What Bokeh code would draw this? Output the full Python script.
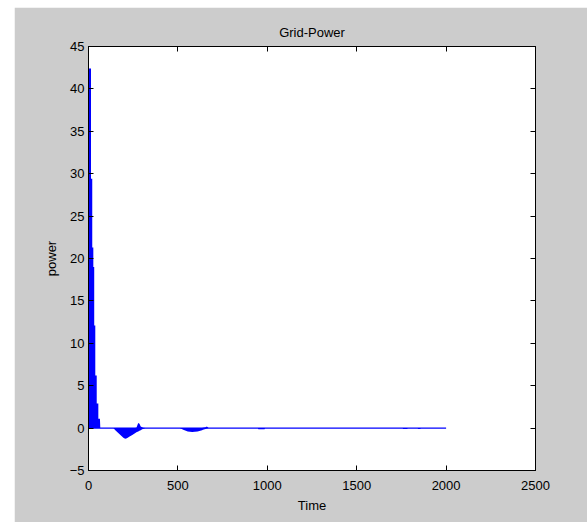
from bokeh.plotting import figure
from bokeh.models import (Range1d, LinearAxis, FixedTicker, Spacer, ColumnDataSource,
                          CustomLabelingPolicy)
from bokeh.layouts import row, column
from bokeh.embed import file_html
from bokeh.resources import INLINE

# ---- data ----
title_text = "Grid-Power"
x_ticks = [0, 500, 1000, 1500, 2000, 2500]
y_ticks = [-5, 0, 5, 10, 15, 20, 25, 30, 35, 40, 45]

# envelope of the rapidly oscillating grid power (lower / upper bound)
env_t = [0, 14, 14, 21, 21, 27, 27, 32, 32, 38, 38, 46, 46, 55, 55, 64, 66,
         139, 150, 165, 180, 195, 205, 215, 230, 245, 260, 268, 278, 285, 292, 300, 305, 318,
         510, 530, 555, 580, 610, 635, 640, 655, 662, 672,
         947, 950, 985, 987,
         1757, 1760, 1783, 1785, 1841, 1843, 1856, 1858, 2000]
env_lo = [0, 0, 0, 0, 0, 0, 0, 0, 0, 0, 0, 0, 0, 0, 0, 0, 0,
          0, -0.25, -0.55, -0.85, -1.15, -1.25, -1.2, -1.0, -0.8, -0.6, -0.5, -0.4, -0.3, -0.25, -0.15, -0.1, 0,
          0, -0.2, -0.4, -0.45, -0.4, -0.25, -0.2, -0.12, -0.05, 0,
          0, -0.15, -0.15, 0,
          0, -0.12, -0.12, 0, 0, -0.1, -0.1, 0, 0]
env_hi = [42.4, 42.4, 29.4, 29.4, 21.3, 21.3, 19.0, 19.0, 12.1, 12.1, 6.2, 6.2, 2.9, 2.9, 1.1, 1.1, 0,
          0, 0, 0, 0, 0, 0, 0, 0, 0, 0, 0.05, 0.6, 0.5, 0.2, 0.1, 0.05, 0,
          0, 0, 0, 0, 0, 0, 0.05, 0.1, 0.2, 0,
          0, 0, 0, 0,
          0, 0, 0, 0, 0, 0, 0, 0, 0]

line_t = [0, 2000]
line_v = [0, 0]

FONT = "Liberation Sans"
GREY = "#cccccc"

p = figure(output_backend="svg", toolbar_location=None,
           frame_width=447, frame_height=424,
           min_border_left=74, min_border_right=52,
           min_border_top=39, min_border_bottom=52,
           x_range=Range1d(0, 2500), y_range=Range1d(-5, 45),
           background_fill_color="white", border_fill_color=GREY,
           title=title_text)

p.title.align = "center"
p.title.text_font = FONT
p.title.text_font_size = "13px"
p.title.text_font_style = "normal"
p.title.text_color = "black"
p.title.standoff = 5

p.grid.visible = False
p.outline_line_color = "black"
p.outline_line_width = 1

src = ColumnDataSource(dict(t=env_t, lo=env_lo, hi=env_hi))
p.varea(x="t", y1="lo", y2="hi", source=src, fill_color="#0000ff")
p.line(line_t, line_v, line_color="#0000ff", line_width=1.3)

def style(ax, labels=True):
    ax.major_tick_in = 5
    ax.major_tick_out = 0
    ax.minor_tick_line_color = None
    ax.axis_line_color = "black"
    ax.major_tick_line_color = "black"
    if labels:
        ax.major_label_text_font = FONT
        ax.major_label_text_font_size = "13px"
        ax.major_label_text_color = "black"
        ax.axis_label_text_font = FONT
        ax.axis_label_text_font_size = "13px"
        ax.axis_label_text_font_style = "normal"
        ax.axis_label_text_color = "black"
    else:
        ax.major_label_policy = CustomLabelingPolicy(code="return new Set()")
        ax.major_label_text_font_size = "1px"
        ax.major_label_standoff = 0

p.xaxis.ticker = FixedTicker(ticks=x_ticks)
p.yaxis.ticker = FixedTicker(ticks=y_ticks)
p.xaxis.axis_label = "Time"
p.yaxis.axis_label = "power"
style(p.xaxis[0])
style(p.yaxis[0])
p.xaxis.major_label_standoff = 10
p.xaxis.axis_label_standoff = 5
p.yaxis.major_label_standoff = 4
p.yaxis.axis_label_standoff = 8

top = LinearAxis(ticker=FixedTicker(ticks=x_ticks))
right = LinearAxis(ticker=FixedTicker(ticks=y_ticks))
style(top, labels=False)
style(right, labels=False)
p.add_layout(top, "above")
p.add_layout(right, "right")

layout = column(Spacer(width=10, height=7), row(Spacer(width=14, height=10), p))

open("out.html", "w").write(file_html(layout, INLINE))
